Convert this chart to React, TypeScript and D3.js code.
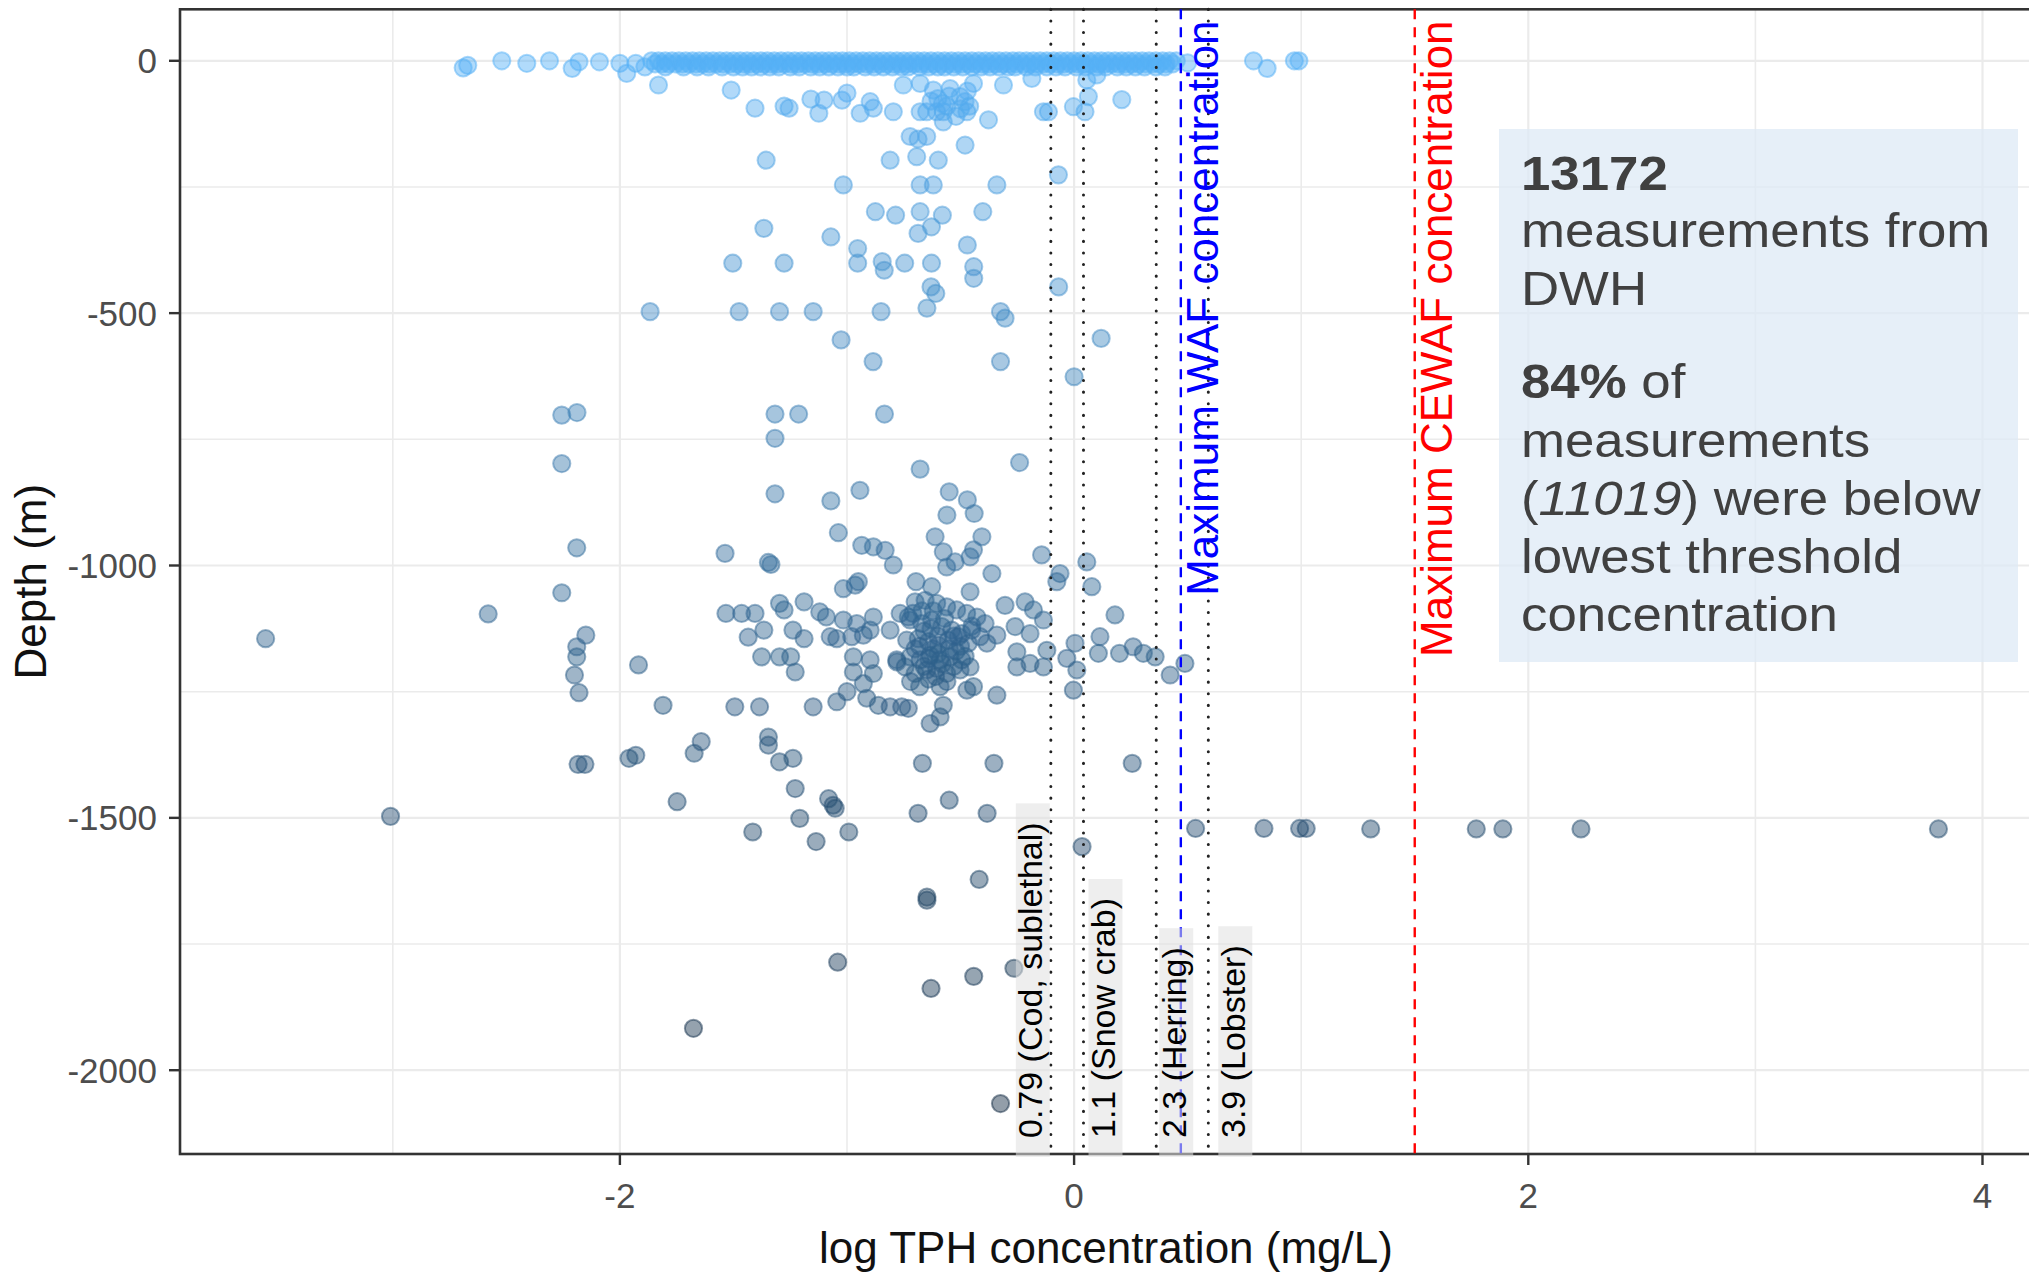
import React, { useEffect, useRef } from "react";
import * as d3 from "d3";

type Pt = [number, number]; // [log TPH (mg/L), depth (m)]

// ---------- DATA ----------
// dense surface band: x positions read along three depth rows
const bandRowDepths = [0, -6, -12];
const bandRow0: number[] = [
  -1.86, -1.83, -1.8, -1.77, -1.74, -1.71, -1.68, -1.65, -1.62, -1.59, -1.56, -1.53, -1.5, -1.47, -1.44, -1.41,
  -1.38, -1.35, -1.32, -1.29, -1.26, -1.23, -1.2, -1.17, -1.14, -1.11, -1.08, -1.05, -1.02, -0.99, -0.96, -0.93,
  -0.9, -0.87, -0.84, -0.81, -0.78, -0.75, -0.72, -0.69, -0.66, -0.63, -0.6, -0.57, -0.54, -0.51, -0.48, -0.45,
  -0.42, -0.39, -0.36, -0.33, -0.3, -0.27, -0.24, -0.21, -0.18, -0.15, -0.12, -0.09, -0.06, -0.03, 0, 0.03, 0.06,
  0.09, 0.12, 0.15, 0.18, 0.21, 0.24, 0.27, 0.3, 0.33, 0.36, 0.39, 0.42, 0.45,
];
const bandRow6: number[] = [
  -1.845, -1.815, -1.785, -1.755, -1.725, -1.695, -1.665, -1.635, -1.605, -1.575, -1.545, -1.515, -1.485, -1.455,
  -1.425, -1.395, -1.365, -1.335, -1.305, -1.275, -1.245, -1.215, -1.185, -1.155, -1.125, -1.095, -1.065, -1.035,
  -1.005, -0.975, -0.945, -0.915, -0.885, -0.855, -0.825, -0.795, -0.765, -0.735, -0.705, -0.675, -0.645, -0.615,
  -0.585, -0.555, -0.525, -0.495, -0.465, -0.435, -0.405, -0.375, -0.345, -0.315, -0.285, -0.255, -0.225, -0.195,
  -0.165, -0.135, -0.105, -0.075, -0.045, -0.015, 0.015, 0.045, 0.075, 0.105, 0.135, 0.165, 0.195, 0.225, 0.255,
  0.285, 0.315, 0.345, 0.375, 0.405, 0.435,
];
const bandRow12: number[] = [
  -1.8, -1.72, -1.66, -1.61, -1.55, -1.5, -1.46, -1.42, -1.38, -1.34, -1.3, -1.25, -1.21, -1.16, -1.12, -1.08,
  -1.04, -1.0, -0.97, -0.92, -0.88, -0.84, -0.8, -0.76, -0.73, -0.68, -0.64, -0.6, -0.57, -0.53, -0.49, -0.45,
  -0.41, -0.37, -0.33, -0.29, -0.26, -0.21, -0.17, -0.12, -0.08, -0.04, 0.01, 0.05, 0.1, 0.14, 0.19, 0.23, 0.27,
  0.31, 0.36, 0.4,
];

const surfaceSparse: Pt[] = [
  [-2.69, -14], [-2.67, -9], [-2.52, 0], [-2.41, -5], [-2.31, 0], [-2.21, -15], [-2.18, -2], [-2.09, -2],
  [-2.0, -5], [-1.97, -25], [-1.93, -5], [-1.89, -12], [0.5, -4], [0.79, 0], [0.85, -15], [0.97, 0], [0.99, 0],
];

const shallowPoints: Pt[] = [
  [-1.83, -48], [-1.51, -58], [-1.405, -94], [-1.277, -90], [-1.255, -94], [-1.159, -76], [-1.124, -104],
  [-1.101, -78], [-1.022, -78], [-1.0, -64], [-0.942, -104], [-0.898, -81], [-0.884, -94], [-0.796, -101],
  [-0.752, -48], [-0.678, -101], [-0.649, -101], [-0.605, -101], [-0.576, -101], [-0.576, -121], [-0.678, -45],
  [-0.62, -58], [-0.546, -55], [-0.502, -71], [-0.48, -81], [-0.472, -101], [-0.443, -45], [-0.56, -90],
  [-0.6, -75], [-0.52, -110], [-0.47, -60], [-0.58, -85], [-0.5, -95], [-0.55, -70], [-0.46, -90], [-0.63, -80],
  [-0.722, -150], [-0.687, -155], [-0.649, -150], [-0.81, -197],
  [-0.693, -190], [-0.598, -197], [-0.48, -167], [-0.377, -117], [-0.311, -48], [-0.186, -35], [-0.135, -101],
  [-0.113, -101], [-0.069, -226], [-0.003, -91], [0.048, -101], [0.063, -71], [0.056, -38], [0.1, -28],
  [0.21, -77], [-0.678, -246], [-0.62, -246], [-0.34, -246], [-1.016, -246], [-1.356, -197],
  [-1.366, -332], [-1.071, -349], [-0.953, -372], [-0.875, -299], [-0.786, -306], [-0.678, -299], [-0.58, -306],
  [-0.687, -342], [-0.628, -329], [-0.402, -299], [-0.47, -365], [-1.503, -401], [-1.277, -401], [-0.953, -401],
  [-0.845, -398], [-0.836, -415], [-0.746, -401], [-0.628, -401], [-0.442, -408], [-0.442, -431], [-0.63, -448],
  [-0.609, -461], [-0.648, -490], [-0.068, -448], [-1.867, -497], [-1.475, -497], [-1.297, -497], [-1.149, -497],
  [-0.85, -497], [-0.324, -497], [-0.304, -510], [-1.026, -553], [-0.885, -596], [-0.324, -596], [0.119, -550],
  [0.0, -626],
];

const midDepthPoints: Pt[] = [
  [-2.256, -702], [-2.189, -697], [-2.256, -798], [-2.19, -965], [-2.256, -1054], [-2.15, -1138], [-2.19, -1161],
  [-2.19, -1181], [-2.2, -1217], [-2.18, -1252], [-1.918, -1197], [-1.81, -1277], [-3.56, -1145], [-2.58, -1096],
  [-1.317, -700], [-1.213, -700], [-0.835, -700], [-1.317, -748], [-0.678, -809], [-0.24, -796], [-1.317, -858],
  [-1.071, -872], [-0.943, -851], [-0.55, -854], [-0.47, -870], [-0.44, -897], [-0.56, -900], [-1.537, -976],
  [-1.346, -994], [-1.335, -998], [0.423, -1217], [0.488, -1194], [-1.533, -1095], [-1.464, -1095], [-1.405, -1095],
  [-1.435, -1142], [-1.366, -1128], [-1.297, -1075], [-1.277, -1088], [-1.189, -1072], [-1.12, -1092], [-1.091, -1102],
  [-1.238, -1128], [-1.189, -1145], [-1.376, -1181], [-1.297, -1181], [-1.248, -1181], [-1.228, -1211],
  [-1.494, -1280], [-1.385, -1280], [-1.149, -1280],
];

const plumeCluster: Pt[] = [
  [-1.038, -935], [-0.935, -960], [-0.884, -963], [-0.832, -970], [-0.796, -999], [-0.612, -943], [-0.576, -973],
  [-0.561, -1003], [-0.524, -993], [-0.458, -983], [-0.443, -969], [-0.406, -943], [-0.362, -1016],
  [-1.016, -1046], [-0.964, -1039], [-0.95, -1032], [-0.696, -1032], [-0.627, -1042], [-0.458, -1052],
  [-0.304, -1079], [-0.216, -1072], [-0.179, -1088], [-0.135, -1108], [-0.194, -1135], [-0.26, -1121], [-0.34, -1138],
  [-0.143, -979], [-0.062, -1016], [-0.076, -1032], [0.056, -993], [0.078, -1042], [0.18, -1098],
  [0.004, -1154], [-0.032, -1184], [0.012, -1207], [-0.003, -1247],
  [0.114, -1141], [0.107, -1174], [0.2, -1174], [0.26, -1161], [0.305, -1174], [0.357, -1181],
  [-0.252, -1171], [-0.252, -1201], [-0.194, -1194], [-0.135, -1201], [-0.12, -1168],
  [-0.34, -1257], [-0.472, -1247], [-0.443, -1240], [-0.576, -1277], [-0.59, -1300], [-0.634, -1313],
  [-1.045, -1270], [-1.0, -1250], [-0.913, -1263], [-0.862, -1277], [-0.81, -1280], [-0.759, -1280], [-0.73, -1283],
  [-1.074, -1141], [-1.045, -1145], [-0.979, -1141], [-0.928, -1138], [-0.898, -1128], [-0.884, -1102],
  [-1.016, -1108], [-0.957, -1115], [-0.972, -1181], [-0.898, -1187], [-0.884, -1214], [-0.972, -1211], [-0.928, -1234],
  [-0.81, -1128], [-0.781, -1187], [-0.766, -1095], [-0.73, -1102],
  [-0.7, -1072], [-0.656, -1069], [-0.605, -1075], [-0.561, -1082], [-0.517, -1088], [-0.473, -1095], [-0.428, -1102],
  [-0.722, -1108], [-0.671, -1115], [-0.627, -1108], [-0.583, -1121], [-0.539, -1128], [-0.495, -1135], [-0.451, -1128],
  [-0.737, -1148], [-0.686, -1145], [-0.642, -1151], [-0.598, -1158], [-0.554, -1148], [-0.51, -1141], [-0.466, -1154],
  [-0.722, -1181], [-0.678, -1187], [-0.634, -1178], [-0.59, -1187], [-0.546, -1181], [-0.495, -1187],
  [-0.744, -1201], [-0.7, -1214], [-0.649, -1207], [-0.605, -1204], [-0.561, -1214], [-0.502, -1207], [-0.458, -1201],
  [-0.78, -1191], [-0.414, -1141], [-0.384, -1154], [-0.392, -1115],
  [-0.66, -1130], [-0.62, -1165], [-0.58, -1195], [-0.64, -1225], [-0.52, -1170], [-0.68, -1160], [-0.6, -1140],
  [-0.71, -1095], [-0.67, -1090], [-0.63, -1125], [-0.57, -1105], [-0.55, -1165], [-0.5, -1160], [-0.53, -1200],
  [-0.61, -1220], [-0.66, -1200], [-0.7, -1165], [-0.72, -1230], [-0.68, -1240], [-0.59, -1240], [-0.48, -1180],
  [-0.45, -1120], [-0.62, -1090], [-0.56, -1230], [-0.64, -1185], [-0.6, -1175], [-0.53, -1140],
];

const deepPoints: Pt[] = [
  [-3.01, -1497], [-2.184, -1394], [-2.154, -1394], [-1.96, -1382], [-1.93, -1376], [-1.748, -1468],
  [-1.673, -1372], [-1.642, -1349], [-1.676, -1917],
  [-1.346, -1340], [-1.346, -1356], [-1.297, -1389], [-1.238, -1382], [-1.228, -1442], [-1.081, -1462],
  [-1.052, -1481], [-0.668, -1392], [-0.353, -1392], [0.256, -1392], [-0.55, -1465], [-0.687, -1491], [-0.383, -1491],
  [-1.415, -1528], [-1.208, -1501], [-1.136, -1547], [-1.061, -1475], [-0.992, -1528], [0.035, -1557],
  [0.535, -1521], [0.836, -1521], [0.993, -1521], [1.022, -1521], [1.306, -1522], [1.771, -1522], [1.888, -1522],
  [2.232, -1522], [3.806, -1522], [-0.418, -1622], [-0.648, -1657], [-0.648, -1663], [-1.041, -1786],
  [-0.63, -1838], [-0.442, -1814], [-0.265, -1798], [-0.324, -2066],
];

const thresholdValues = [0.79, 1.1, 2.3, 3.9]; // mg/L
const thresholdSpecies = ["Cod, sublethal", "Snow crab", "Herring", "Lobster"];
const wafMaxLog = 0.47;
const cewafMaxLog = 1.5;
const xTickValues = [-2, 0, 2, 4];
const yTickValues = [0, -500, -1000, -1500, -2000];
const totalMeasurements = 13172;
const belowThresholdCount = 11019;
const belowThresholdPct = 84;

// ---------- LAYOUT ----------
const W = 2029;
const H = 1274;
const P = { left: 180, top: 9.3, right: 2032, bottom: 1154 };
const Y_DOMAIN: [number, number] = [102, -2166];
const FONT = '"Liberation Sans", Arial, Helvetica, sans-serif';
const labelNudge = [-35, 5, 3, 10]; // px offset of label box from its threshold line

export default function App() {
  const ref = useRef<SVGSVGElement>(null);

  useEffect(() => {
    const svg = d3.select(ref.current!);
    svg.selectAll("*").remove();

    const x = d3.scaleLinear().domain([-3.937, 4.218]).range([P.left, P.right]);
    const y = d3.scaleLinear().domain(Y_DOMAIN).range([P.top, P.bottom]);
    const color = d3
      .scaleLinear<string>()
      .domain([-2070, 0])
      .range(["#132B43", "#56B1F7"])
      .interpolate(d3.interpolateLab);

    svg.append("rect").attr("width", W).attr("height", H).attr("fill", "#fff");
    svg
      .append("defs")
      .append("clipPath")
      .attr("id", "panelClip")
      .append("rect")
      .attr("x", P.left)
      .attr("y", P.top)
      .attr("width", P.right - P.left)
      .attr("height", P.bottom - P.top);

    // grid
    const grid = svg.append("g");
    const xGrid = x.ticks(8);
    grid
      .selectAll("line.vx")
      .data(xGrid)
      .join("line")
      .attr("x1", (d) => x(d))
      .attr("x2", (d) => x(d))
      .attr("y1", P.top)
      .attr("y2", P.bottom)
      .attr("stroke", "#ebebeb")
      .attr("stroke-width", (d) => (d % 2 === 0 ? 2.2 : 1.6));
    const yGrid = [...yTickValues, ...yTickValues.map((t) => t - 250)].filter(
      (t) => t <= Y_DOMAIN[0] && t >= Y_DOMAIN[1]
    );
    grid
      .selectAll("line.hy")
      .data(yGrid)
      .join("line")
      .attr("x1", P.left)
      .attr("x2", P.right)
      .attr("y1", (d) => y(d))
      .attr("y2", (d) => y(d))
      .attr("stroke", "#ebebeb")
      .attr("stroke-width", (d) => (d % 500 === 0 ? 2.2 : 1.6));

    // points
    const bandPts: Pt[] = [
      ...bandRow0.map((v) => [v, bandRowDepths[0]] as Pt),
      ...bandRow6.map((v) => [v, bandRowDepths[1]] as Pt),
      ...bandRow12.map((v) => [v, bandRowDepths[2]] as Pt),
    ];
    const allPts: Pt[] = [
      ...deepPoints,
      ...midDepthPoints,
      ...plumeCluster,
      ...shallowPoints,
      ...surfaceSparse,
      ...bandPts,
    ];
    svg
      .append("g")
      .attr("clip-path", "url(#panelClip)")
      .selectAll("circle")
      .data(allPts)
      .join("circle")
      .attr("cx", (d) => x(d[0]))
      .attr("cy", (d) => y(d[1]))
      .attr("r", 8.6)
      .attr("fill", (d) => color(d[1]))
      .attr("fill-opacity", 0.46)
      .attr("stroke", (d) => color(d[1]))
      .attr("stroke-opacity", 0.5)
      .attr("stroke-width", 2);

    // panel border
    svg
      .append("rect")
      .attr("x", P.left)
      .attr("y", P.top)
      .attr("width", P.right - P.left)
      .attr("height", P.bottom - P.top)
      .attr("fill", "none")
      .attr("stroke", "#333")
      .attr("stroke-width", 2.6);

    // ticks
    const axes = svg.append("g").attr("font-family", FONT);
    axes
      .selectAll("line.yt")
      .data(yTickValues)
      .join("line")
      .attr("x1", P.left - 11)
      .attr("x2", P.left)
      .attr("y1", (d) => y(d))
      .attr("y2", (d) => y(d))
      .attr("stroke", "#333")
      .attr("stroke-width", 2.4);
    axes
      .selectAll("text.yt")
      .data(yTickValues)
      .join("text")
      .attr("x", 157)
      .attr("y", (d) => y(d) + 12.5)
      .attr("text-anchor", "end")
      .attr("font-size", 35)
      .attr("fill", "#4d4d4d")
      .text((d) => String(d));
    axes
      .selectAll("line.xt")
      .data(xTickValues)
      .join("line")
      .attr("x1", (d) => x(d))
      .attr("x2", (d) => x(d))
      .attr("y1", P.bottom)
      .attr("y2", P.bottom + 11)
      .attr("stroke", "#333")
      .attr("stroke-width", 2.4);
    axes
      .selectAll("text.xt")
      .data(xTickValues)
      .join("text")
      .attr("x", (d) => x(d))
      .attr("y", 1208)
      .attr("text-anchor", "middle")
      .attr("font-size", 35)
      .attr("fill", "#4d4d4d")
      .text((d) => String(d));
    axes
      .append("text")
      .attr("x", (P.left + P.right) / 2)
      .attr("y", 1263)
      .attr("text-anchor", "middle")
      .attr("font-size", 44)
      .attr("fill", "#111")
      .text("log TPH concentration (mg/L)");
    axes
      .append("text")
      .attr("transform", `translate(46, ${(P.top + P.bottom) / 2}) rotate(-90)`)
      .attr("text-anchor", "middle")
      .attr("font-size", 44)
      .attr("fill", "#111")
      .text("Depth (m)");

    // threshold lines
    const vl = svg.append("g");
    thresholdValues.forEach((v) => {
      vl.append("line")
        .attr("x1", x(Math.log10(v)))
        .attr("x2", x(Math.log10(v)))
        .attr("y1", P.top)
        .attr("y2", P.bottom)
        .attr("stroke", "#222")
        .attr("stroke-width", 3)
        .attr("stroke-linecap", "round")
        .attr("stroke-dasharray", "0.1,11.5");
    });
    [
      { v: wafMaxLog, c: "#0000ff", t: "Maximum WAF concentration" },
      { v: cewafMaxLog, c: "#ff0000", t: "Maximum CEWAF concentration" },
    ].forEach((d) => {
      const lx = x(d.v);
      vl.append("line")
        .attr("x1", lx)
        .attr("x2", lx)
        .attr("y1", P.top)
        .attr("y2", P.bottom)
        .attr("stroke", d.c)
        .attr("stroke-width", 2.4)
        .attr("stroke-dasharray", "10,8");
      vl.append("text")
        .attr("transform", `translate(${lx + 37}, ${y(80)}) rotate(-90)`)
        .attr("text-anchor", "end")
        .attr("font-family", FONT)
        .attr("font-size", 44)
        .attr("fill", d.c)
        .text(d.t);
    });

    // species threshold labels
    const lab = svg.append("g").attr("font-family", FONT);
    thresholdValues.forEach((v, i) => {
      const lx = x(Math.log10(v));
      const boxLeft = lx + labelNudge[i];
      const g = lab.append("g");
      const rect = g.append("rect");
      const txt = g
        .append("text")
        .attr("transform", `translate(${boxLeft + 26.5}, 1138) rotate(-90)`)
        .attr("font-size", 34)
        .attr("fill", "#000")
        .text(`${v} (${thresholdSpecies[i]})`);
      const len = (txt.node() as SVGTextElement).getComputedTextLength();
      rect
        .attr("x", boxLeft)
        .attr("width", 34)
        .attr("y", 1138 - len - 19)
        .attr("height", len + 19 + 19)
        .attr("fill", "#e0e0e0")
        .attr("fill-opacity", 0.55);
    });

    // summary box
    const box = svg.append("g").attr("font-family", FONT);
    box
      .append("rect")
      .attr("x", 1499)
      .attr("y", 129)
      .attr("width", 519)
      .attr("height", 533)
      .attr("fill", "#dce9f5")
      .attr("fill-opacity", 0.72);
    type Seg = { t: string; w?: string; s?: string };
    const lines: Seg[][] = [
      [{ t: String(totalMeasurements), w: "bold" }],
      [{ t: "measurements from" }],
      [{ t: "DWH" }],
      [{ t: `${belowThresholdPct}%`, w: "bold" }, { t: " of" }],
      [{ t: "measurements" }],
      [{ t: "(" }, { t: String(belowThresholdCount), s: "italic" }, { t: ") were below" }],
      [{ t: "lowest threshold" }],
      [{ t: "concentration" }],
    ];
    const baselines = [189.5, 247.4, 305.4, 398, 457, 515, 573, 631];
    lines.forEach((segs, i) => {
      const t = box
        .append("text")
        .attr("transform", `translate(1521, ${baselines[i]}) scale(1.1, 1)`)
        .attr("font-size", 48)
        .attr("fill", "#404040");
      segs.forEach((s) => {
        t.append("tspan")
          .attr("font-weight", s.w || "normal")
          .attr("font-style", s.s || "normal")
          .text(s.t);
      });
    });
  }, []);

  return (
    <svg
      ref={ref}
      width={W}
      height={H}
      style={{ position: "absolute", left: 0, top: 0, display: "block" }}
    />
  );
}
